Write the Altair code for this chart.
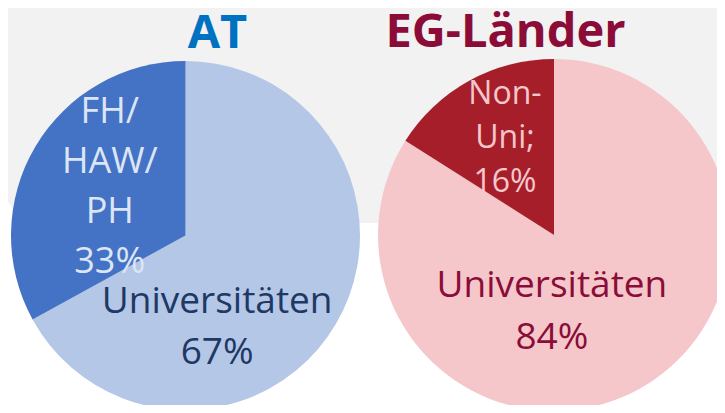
import altair as alt
import pandas as pd

groups = ["AT", "EG-Länder"]
at_names = ["Universitäten", "FH/\nHAW/\nPH"]
at_values = [67, 33]
eg_names = ["Universitäten", "Non-\nUni;"]
eg_values = [84, 16]

title_colors = ["#0070C0", "#8A0C37"]
at_colors = ["#B4C7E7", "#4472C4"]
eg_colors = ["#F5C7CB", "#A61E2A"]
at_text_colors = ["#203864", "#DCE5F4"]
eg_text_colors = ["#8A0C37", "#F5C7CB"]

FONT = "Open Sans"


def frame(group, names, values):
    return pd.DataFrame({
        "group": group,
        "name": names,
        "value": values,
        "idx": list(range(len(names))),
        "key": [f"{group}|{i}" for i in range(len(names))],
        "label": [f"{n}\n{v}%" for n, v in zip(names, values)],
    })


at_df = frame(groups[0], at_names, at_values)
eg_df = frame(groups[1], eg_names, eg_values)

color_scale = alt.Scale(
    domain=list(at_df["key"]) + list(eg_df["key"]),
    range=at_colors + eg_colors,
)


def pie(df, cx, cy, r):
    return alt.Chart(df).mark_arc(radius=r).encode(
        theta=alt.Theta("value:Q", stack=True),
        order=alt.Order("idx:Q"),
        color=alt.Color("key:N", scale=color_scale, legend=None),
        x=alt.value(cx),
        y=alt.value(cy),
    )


def label(df, idx, cx, cy, radius, dx, dy, size, lh, color):
    return (
        alt.Chart(df)
        .transform_window(cum="sum(value)", sort=[alt.SortField("idx")], frame=[None, 0])
        .transform_calculate(mid="datum.cum - datum.value / 2")
        .transform_filter(alt.datum.idx == idx)
        .mark_text(font=FONT, fontSize=size, lineHeight=lh, lineBreak="\n",
                   dx=dx, dy=dy, align="center", baseline="middle", color=color)
        .encode(
            theta=alt.Theta("mid:Q", stack=None),
            radius=alt.value(radius),
            text="label:N",
            x=alt.value(cx),
            y=alt.value(cy),
        )
    )


def title(i, cx, base):
    return alt.Chart(pd.DataFrame({"t": [groups[i]]})).mark_text(
        font=FONT, fontSize=47, fontWeight="bold", color=title_colors[i],
        align="center", baseline="alphabetic",
    ).encode(text="t:N", x=alt.value(cx), y=alt.value(base))


bg = alt.Chart(pd.DataFrame({"a": [0]})).mark_rect(
    color="#F2F2F2", cornerRadius=45
).encode(x=alt.value(-7), x2=alt.value(730), y=alt.value(-60), y2=alt.value(215))

C1 = (177.5, 227.5, 174.5)
C2 = (546, 227, 176)

chart = alt.layer(
    bg,
    pie(at_df, *C1),
    pie(eg_df, *C2),
    label(at_df, 1, C1[0], C1[1], 88, 0, -79, 36, 50, at_text_colors[1]),
    label(at_df, 0, C1[0], C1[1], 60, -20, 35.5, 37, 51, at_text_colors[0]),
    label(eg_df, 1, C2[0], C2[1], 108, 3, -46, 32, 44, eg_text_colors[1]),
    label(eg_df, 0, C2[0], C2[1], 60, -31, -2, 37, 52, eg_text_colors[0]),
    title(0, 209.5, 39.7),
    title(1, 497.5, 38.7),
).properties(
    width=709, height=397, autosize="none", padding=0
).configure_view(strokeWidth=0)

chart.save("out.html", embed_options={"renderer": "svg", "actions": False})
